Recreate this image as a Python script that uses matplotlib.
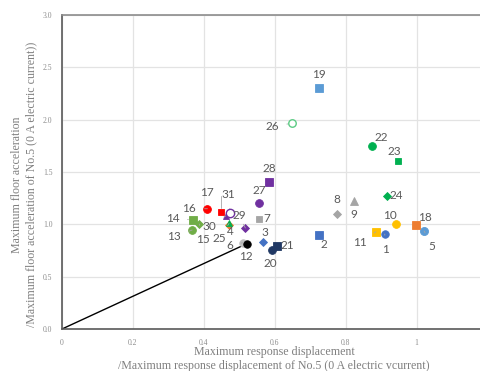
import matplotlib
matplotlib.use("Agg")
import matplotlib.pyplot as plt

# Specimen numbers and normalised responses
specimens = list(range(1, 32))
disp_ratio = [0.910, 0.725, 0.568, 0.472, 1.021, 0.509, 0.555, 0.774, 0.824, 0.941,
              0.885, 0.521, 0.367, 0.368, 0.387, 0.410, 0.448, 0.998, 0.724, 0.591,
              0.605, 0.874, 0.948, 0.915, 0.471, 0.648, 0.555, 0.584, 0.517, 0.461,
              0.474]
acc_ratio = [0.907, 0.895, 0.828, 0.998, 0.936, 0.824, 1.053, 1.101, 1.225, 1.006,
             0.929, 0.815, 0.946, 1.041, 1.003, 1.149, 1.120, 0.990, 2.299, 0.755,
             0.793, 1.748, 1.605, 1.273, 1.008, 1.965, 1.201, 1.407, 0.965, 1.079,
             1.111]

# Marker style per specimen: (marker, size, colour, filled)
BLUE, ORANGE, GRAY, YELLOW = "#4472C4", "#ED7D31", "#A5A5A5", "#FFC000"
LBLUE, LGREEN, RED, NAVY = "#5B9BD5", "#70AD47", "#FF0000", "#203864"
GREEN, PURPLE, BLACK = "#00B050", "#7030A0", "#000000"
styles = {
    1: ("o", 5.4, BLUE, True), 2: ("s", 5.6, BLUE, True), 3: ("D", 3.6, BLUE, True),
    4: ("D", 3.6, ORANGE, True), 5: ("o", 5.8, LBLUE, True), 6: ("o", 5.4, "#BFBFBF", True),
    7: ("s", 4.2, GRAY, True), 8: ("D", 3.6, GRAY, True), 9: ("^", 5.4, GRAY, True),
    10: ("o", 5.6, YELLOW, True), 11: ("s", 5.8, YELLOW, True), 12: ("o", 5.4, BLACK, True),
    13: ("o", 5.6, LGREEN, True), 14: ("s", 5.8, LGREEN, True), 15: ("D", 3.8, LGREEN, True),
    16: ("o", 5.6, RED, True), 17: ("s", 4.4, RED, True), 18: ("s", 5.8, ORANGE, True),
    19: ("s", 5.4, LBLUE, True), 20: ("o", 5.6, NAVY, True), 21: ("s", 5.8, NAVY, True),
    22: ("o", 5.6, GREEN, True), 23: ("s", 4.2, GREEN, True), 24: ("D", 3.6, GREEN, True),
    25: ("^", 4.4, GREEN, True), 26: ("o", 5.4, "#5CCB84", False), 27: ("o", 5.6, PURPLE, True),
    28: ("s", 5.6, PURPLE, True), 29: ("D", 3.8, PURPLE, True), 30: ("^", 4.6, PURPLE, True),
    31: ("o", 6.0, PURPLE, False),
}

# Label offsets in pixels (dx, dy) and whether a leader line is drawn
label_offsets = {
    1: (1, -15, True), 2: (5, -9, False), 3: (1, 10, False), 4: (1, -7, False),
    5: (8, -15, True), 6: (-13, -3, True), 7: (8, 0, False), 8: (0, 14, False),
    9: (0, -14, False), 10: (-6, 8, False), 11: (-16, -11, True), 12: (-1, -13, False),
    13: (-18, -7, True), 14: (-20, 2, True), 15: (4, -15, True), 16: (-18, 0, True),
    17: (-14, 19, True), 18: (9, 8, False), 19: (0, 14, False), 20: (-1, -14, False),
    21: (11, 0, False), 22: (9, 9, False), 23: (-4, 10, False), 24: (10, 0, False),
    25: (-10, -15, True), 26: (-20, -3, True), 27: (0, 13, False), 28: (0, 13, False),
    29: (-6, 12, True), 30: (-16, -10, True), 31: (-2, 18, True),
}

fig = plt.figure(figsize=(4.8, 3.71), dpi=100)
ax = fig.add_axes([62 / 480, 42 / 371, 425.6 / 480, 314 / 371])
ax.set_xlim(0, 1.2)
ax.set_ylim(0, 3.0)
ax.set_xticks([0, 0.2, 0.4, 0.6, 0.8, 1.0])
ax.set_xticklabels(["0", "0.2", "0.4", "0.6", "0.8", "1"])
ax.set_yticks([0, 0.5, 1.0, 1.5, 2.0, 2.5, 3.0])
ax.set_yticklabels(["0.0", "0.5", "1.0", "1.5", "2.0", "2.5", "3.0"])
ax.grid(True, color="#E3E3E3", lw=0.9)
ax.set_axisbelow(True)
for side in ["top", "right"]:
    ax.spines[side].set_color("#8C8C8C")
    ax.spines[side].set_linewidth(1.2)
for side in ["left", "bottom"]:
    ax.spines[side].set_color("#595959")
    ax.spines[side].set_linewidth(1.2)
ax.tick_params(length=0, labelsize=5.5, labelcolor="#8C8C8C")
ax.tick_params(axis="y", pad=7)
ax.tick_params(axis="x", pad=7)
for lab in ax.get_xticklabels() + ax.get_yticklabels():
    lab.set_fontfamily("Liberation Serif")

# Reference line from the origin to specimen 12
i12 = specimens.index(12)
ax.plot([0, disp_ratio[i12]], [0, acc_ratio[i12]], color="black", lw=1.0, zorder=2)

for n, xv, yv in zip(specimens, disp_ratio, acc_ratio):
    m, s, c, filled = styles[n]
    ax.plot(xv, yv, marker=m, ms=s, color=c, mec=c,
            mfc=c if filled else "white", mew=1.0 if not filled else 0.6,
            ls="none", zorder=4)

for n, xv, yv in zip(specimens, disp_ratio, acc_ratio):
    dx, dy, leader = label_offsets[n]
    props = None
    if leader:
        props = dict(arrowstyle="-", color="#A6A6A6", lw=0.6, shrinkA=4, shrinkB=3)
        if n == 17:
            props["connectionstyle"] = "angle,angleA=0,angleB=90,rad=0"
    ax.annotate(str(n), (xv, yv), xytext=(dx, dy), textcoords="offset pixels",
                ha="center", va="center", fontsize=8.5, color="#595959",
                family="Lato", arrowprops=props, zorder=5)

serif = "Liberation Serif"
fig.text(274 / 480, 1 - 352 / 371, "Maximum response displacement",
         ha="center", va="center", fontsize=8.6, color="#7F7F7F", family=serif)
fig.text(274 / 480, 1 - 365.5 / 371,
         "/Maximum response displacement of No.5 (0 A electric vcurrent)",
         ha="center", va="center", fontsize=8.6, color="#7F7F7F", family=serif)
fig.text(17 / 480, 1 - 185 / 371, "Maximum floor acceleration", rotation=90,
         ha="center", va="center", fontsize=8.6, color="#7F7F7F", family=serif)
fig.text(31 / 480, 1 - 184 / 371,
         "/Maximum floor acceleration of No.5 (0 A electric current))", rotation=90,
         ha="center", va="center", fontsize=8.6, color="#7F7F7F", family=serif)

fig.savefig("out.png", dpi=100)
